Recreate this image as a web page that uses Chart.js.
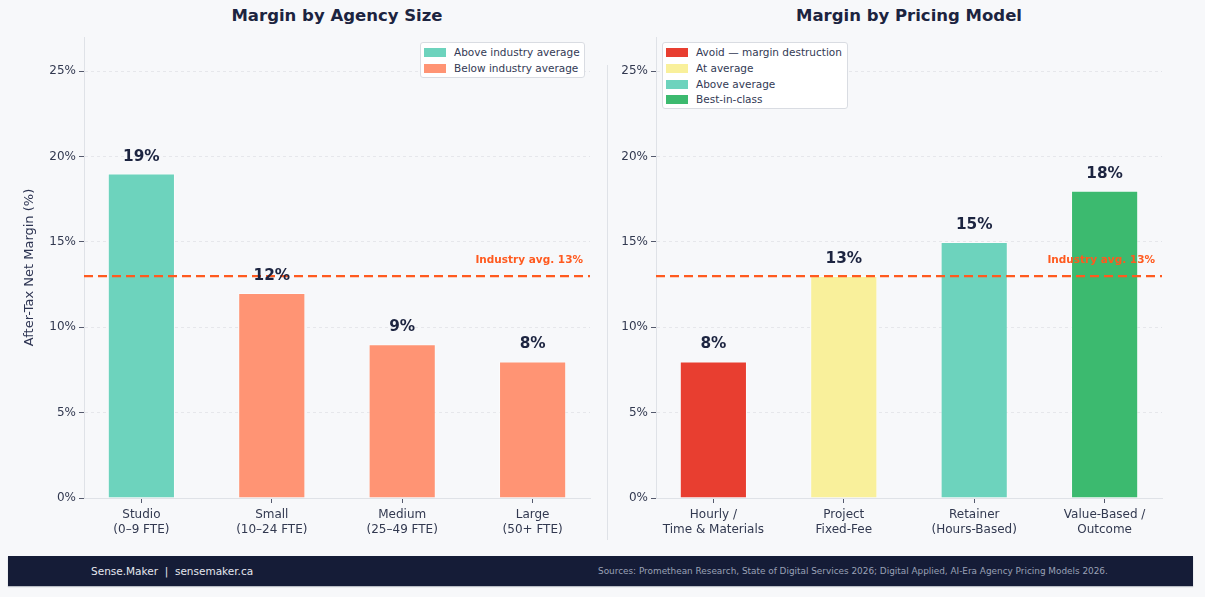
<!DOCTYPE html>
<html>
<head>
<meta charset="utf-8">
<script src="https://cdn.jsdelivr.net/npm/chart.js@4.4.1/dist/chart.umd.min.js"></script>
<style>
body { margin:0; background:#f7f8fa; width:1205px; height:597px; overflow:hidden; position:relative; font-family:"DejaVu Sans", sans-serif; }
canvas { position:absolute; top:0; }
#sizeChart { left:0; }
#pricingChart { left:600px; }
.title { position:absolute; top:6px; width:506px; text-align:center; font-weight:bold; font-size:16.5px; line-height:20px; color:#1c2440; }
.sep { position:absolute; left:607px; top:65px; width:1px; height:475px; background:#dfe2e7; }
.legend { position:absolute; background:#fff; border:1px solid #d9dce2; border-radius:3px; box-sizing:border-box; }
.legend .row { position:absolute; left:3px; height:16px; font-size:10.5px; line-height:16px; color:#333a55; white-space:nowrap; }
.legend .patch { display:inline-block; width:22px; height:9px; vertical-align:-1px; margin-right:8px; }
.footer { position:absolute; left:8px; top:556px; width:1185px; height:30px; background:#151c37; box-shadow:0 1px 1px #b8bcc4; }
.footer .brand { position:absolute; left:83px; top:0; line-height:30px; font-size:10.5px; color:#e4e7ee; }
.footer .src { position:absolute; left:590px; top:0; line-height:30px; font-size:8.9px; color:#9aa1b6; }
</style>
</head>
<body>
<div class="title" style="left:84px">Margin by Agency Size</div>
<div class="title" style="left:656px">Margin by Pricing Model</div>
<canvas id="sizeChart" width="600" height="545" style="width:600px;height:545px"></canvas>
<canvas id="pricingChart" width="580" height="545" style="width:580px;height:545px"></canvas>
<div class="sep"></div>
<div class="legend" id="sizeLegend" style="left:420px;top:42px;width:165px;height:36px"></div>
<div class="legend" id="pricingLegend" style="left:662px;top:42px;width:186px;height:67px"></div>
<div class="footer">
  <div class="brand">Sense.Maker&nbsp; | &nbsp;sensemaker.ca</div>
  <div class="src">Sources: Promethean Research, State of Digital Services 2026; Digital Applied, AI-Era Agency Pricing Models 2026.</div>
</div>
<script>
/* DATA */
const sizeCategories = ["Studio\n(0–9 FTE)", "Small\n(10–24 FTE)", "Medium\n(25–49 FTE)", "Large\n(50+ FTE)"];
const sizeMargins = [19, 12, 9, 8];
const pricingCategories = ["Hourly /\nTime & Materials", "Project\nFixed-Fee", "Retainer\n(Hours-Based)", "Value-Based /\nOutcome"];
const pricingMargins = [8, 13, 15, 18];
const industryAvg = 13;
const yTicks = [0, 5, 10, 15, 20, 25];

const sizeLegendLabels = ["Above industry average", "Below industry average"];
const pricingLegendLabels = ["Avoid — margin destruction", "At average", "Above average", "Best-in-class"];

/* COLOURS */
const TEAL = "#6dd3bd", SALMON = "#ff9474", RED = "#e83e30", YELLOW = "#f9f09b", GREEN = "#3cba6f";
const sizeColors = [TEAL, SALMON, SALMON, SALMON];
const pricingColors = [RED, YELLOW, TEAL, GREEN];
const sizeLegendColors = [TEAL, SALMON];
const pricingLegendColors = [RED, YELLOW, TEAL, GREEN];

const el = (id) => document.getElementById(id);
const FONT = "DejaVu Sans";
const TEXT = "#323950";

/* LEGENDS */
function buildLegend(id, labels, colors) {
  el(id).innerHTML = labels.map((l, i) =>
    `<div class="row" style="top:${1 + i * 15.8}px"><span class="patch" style="background:${colors[i]}"></span>${l}</div>`
  ).join("");
}
buildLegend("sizeLegend", sizeLegendLabels, sizeLegendColors);
buildLegend("pricingLegend", pricingLegendLabels, pricingLegendColors);

/* AVG LINE + VALUE LABELS */
const overlay = {
  id: "overlay",
  afterDatasetsDraw(chart) {
    const { ctx, chartArea, scales } = chart;
    const y = scales.y.getPixelForValue(industryAvg);
    ctx.save();
    ctx.strokeStyle = "#ff5a1f";
    ctx.lineWidth = 2.2;
    ctx.setLineDash([9, 5]);
    ctx.beginPath();
    ctx.moveTo(chartArea.left, y);
    ctx.lineTo(chartArea.right, y);
    ctx.stroke();
    ctx.setLineDash([]);
    ctx.fillStyle = "#ff5a1f";
    ctx.font = `bold 10.5px "${FONT}"`;
    ctx.textAlign = "right";
    ctx.textBaseline = "middle";
    ctx.fillText(`Industry avg. ${industryAvg}%`, chartArea.right - 7, y - 16);

    const meta = chart.getDatasetMeta(0);
    ctx.fillStyle = "#1c2440";
    ctx.font = `bold 15.3px "${FONT}"`;
    ctx.textAlign = "center";
    meta.data.forEach((bar, i) => {
      const v = chart.data.datasets[0].data[i].y;
      ctx.fillText(v + "%", bar.x, bar.y - 17);
    });
    ctx.restore();
  }
};

function makeChart(id, cats, values, colors, yWidth, rightPad, yTitle) {
  return new Chart(el(id), {
    type: "bar",
    data: {
      datasets: [{
        data: values.map((v, i) => ({ x: i, y: v })),
        backgroundColor: colors,
        borderColor: "rgba(255,255,255,0.5)",
        borderWidth: 1,
        categoryPercentage: 1,
        barPercentage: 0.515
      }]
    },
    options: {
      responsive: false,
      animation: false,
      events: [],
      layout: { padding: { left: 0, right: rightPad, top: 37, bottom: 0 } },
      plugins: { legend: { display: false }, tooltip: { enabled: false } },
      scales: {
        x: {
          type: "linear",
          offset: false,
          min: -0.44,
          max: cats.length - 0.56,
          afterFit: (s) => { s.height = 47; },
          ticks: {
            stepSize: 1,
            includeBounds: false,
            autoSkip: false,
            maxRotation: 0,
            padding: 5,
            color: TEXT,
            font: { family: FONT, size: 12, lineHeight: 1.2 },
            callback: (v) => cats[Math.round(v)] ? cats[Math.round(v)].split("\n") : ""
          },
          grid: { offset: false, drawOnChartArea: false, drawTicks: true, tickLength: 5, tickColor: "#555a6d", tickWidth: 1 },
          border: { display: true, color: "#dfe2e7", width: 1 }
        },
        y: {
          min: 0,
          max: 27,
          afterFit: (s) => { s.width = yWidth; },
          afterBuildTicks: (s) => { s.ticks = yTicks.map(v => ({ value: v })); },
          ticks: {
            padding: 3,
            color: TEXT,
            font: { family: FONT, size: 12 },
            callback: (v) => v + "%"
          },
          grid: { color: "#e1e3e8", lineWidth: 0.8, tickLength: 5, tickColor: "#555a6d", tickWidth: 1, tickBorderDash: [] },
          border: { display: true, color: "#dfe2e7", width: 1, dash: [3, 3] },
          title: {
            display: !!yTitle,
            text: yTitle || "",
            color: "#2d3452",
            font: { family: FONT, size: 13 },
            padding: { top: 22, bottom: 0 }
          }
        }
      }
    },
    plugins: [overlay]
  });
}

makeChart("sizeChart", sizeCategories, sizeMargins, sizeColors, 84, 10, "After-Tax Net Margin (%)");
makeChart("pricingChart", pricingCategories, pricingMargins, pricingColors, 56, 18, "");
</script>
</body>
</html>
